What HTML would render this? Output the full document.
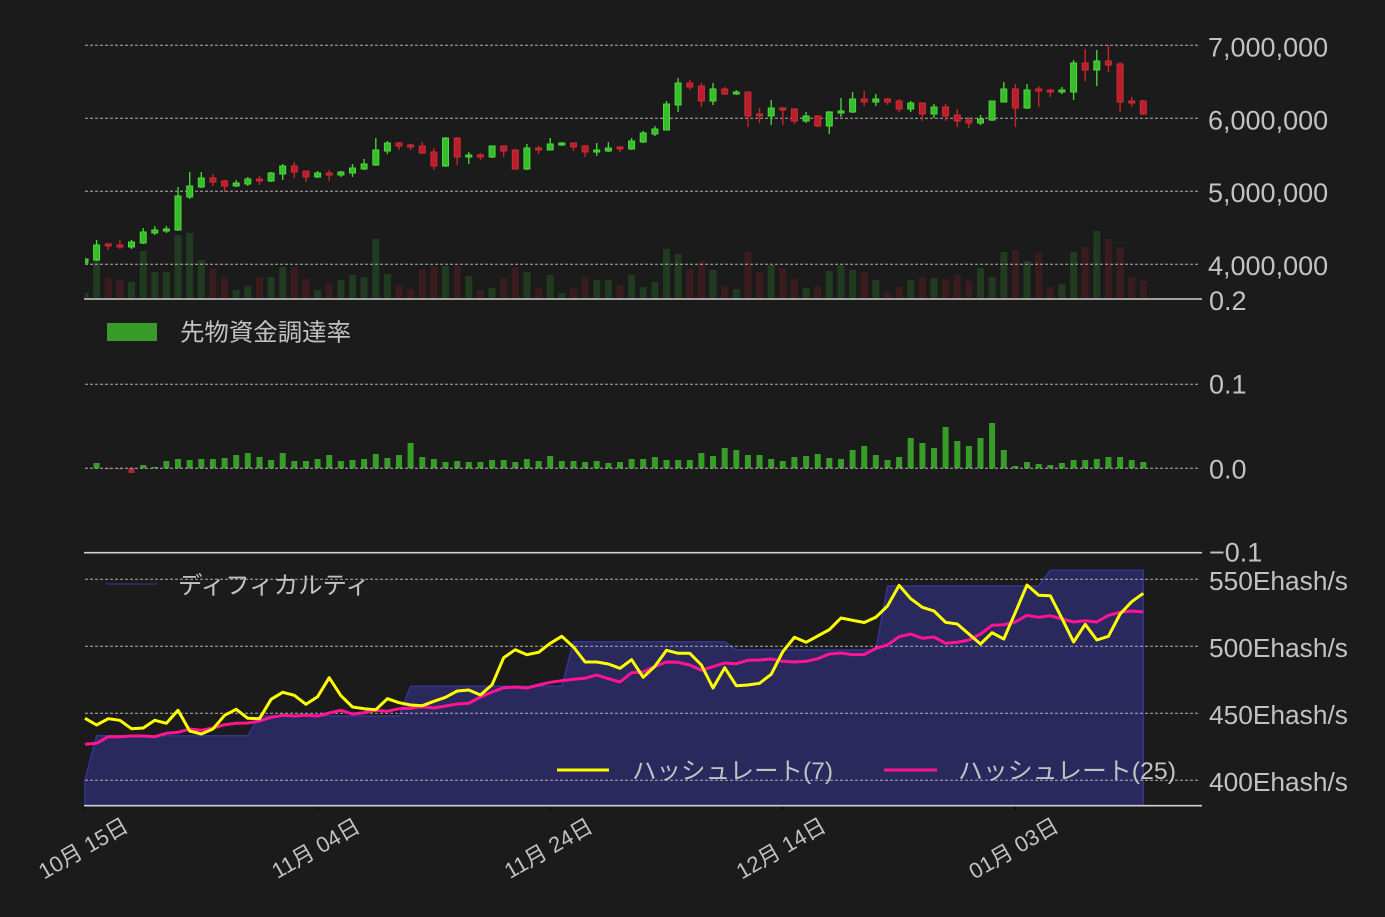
<!DOCTYPE html>
<html><head><meta charset="utf-8"><style>
html,body{margin:0;padding:0;background:#1b1b1b;}
svg{display:block;}
text{font-family:"Liberation Sans","Noto Sans CJK JP",sans-serif;fill:#c2c2c2;}
</style></head><body>
<svg width="1385" height="917" viewBox="0 0 1385 917" xmlns="http://www.w3.org/2000/svg">
<defs><clipPath id="pc"><rect x="85" y="0" width="1117" height="917"/></clipPath></defs>
<rect width="1385" height="917" fill="#1b1b1b"/>
<g clip-path="url(#pc)">
<!-- volume -->
<path fill="#203b1f" d="M81.5 293h7V298h-7zM93.1 260h7V298h-7zM128 282h7V298h-7zM139.7 251h7V298h-7zM151.3 272h7V298h-7zM162.9 272h7V298h-7zM174.5 235h7V298h-7zM186.2 233h7V298h-7zM197.8 260h7V298h-7zM232.7 290h7V298h-7zM244.3 286h7V298h-7zM267.6 277h7V298h-7zM279.2 267h7V298h-7zM314.1 290h7V298h-7zM337.4 280h7V298h-7zM349 275h7V298h-7zM360.6 277h7V298h-7zM372.3 239h7V298h-7zM383.9 274h7V298h-7zM442 266h7V298h-7zM465.3 276h7V298h-7zM488.6 288h7V298h-7zM523.4 272h7V298h-7zM546.7 275h7V298h-7zM558.3 293h7V298h-7zM593.2 280h7V298h-7zM604.9 280h7V298h-7zM628.1 275h7V298h-7zM639.7 287h7V298h-7zM651.4 282h7V298h-7zM663 249h7V298h-7zM674.6 254h7V298h-7zM709.5 270h7V298h-7zM732.8 289h7V298h-7zM767.7 265h7V298h-7zM802.6 288h7V298h-7zM825.8 271h7V298h-7zM837.5 265h7V298h-7zM849.1 270h7V298h-7zM872.3 280h7V298h-7zM907.2 280h7V298h-7zM930.5 278h7V298h-7zM977 268h7V298h-7zM988.6 277h7V298h-7zM1000.3 252h7V298h-7zM1023.5 261h7V298h-7zM1058.4 284h7V298h-7zM1070.1 252h7V298h-7zM1093.3 231h7V298h-7z"/>
<path fill="#3a1c1f" d="M104.8 278h7V298h-7zM116.4 280h7V298h-7zM209.4 269h7V298h-7zM221.1 277h7V298h-7zM256 277h7V298h-7zM290.8 267h7V298h-7zM302.5 279h7V298h-7zM325.7 283h7V298h-7zM395.5 285h7V298h-7zM407.1 289h7V298h-7zM418.8 269h7V298h-7zM430.4 266h7V298h-7zM453.7 266h7V298h-7zM476.9 290h7V298h-7zM500.2 278h7V298h-7zM511.8 267h7V298h-7zM535.1 288h7V298h-7zM570 288h7V298h-7zM581.6 277h7V298h-7zM616.5 285h7V298h-7zM686.3 269h7V298h-7zM697.9 261h7V298h-7zM721.2 286h7V298h-7zM744.4 252h7V298h-7zM756 272h7V298h-7zM779.3 268h7V298h-7zM790.9 279h7V298h-7zM814.2 286h7V298h-7zM860.7 272h7V298h-7zM884 292h7V298h-7zM895.6 287h7V298h-7zM918.9 277h7V298h-7zM942.1 279h7V298h-7zM953.8 275h7V298h-7zM965.4 281h7V298h-7zM1011.9 250h7V298h-7zM1035.2 253h7V298h-7zM1046.8 287h7V298h-7zM1081.7 247h7V298h-7zM1104.9 239h7V298h-7zM1116.6 247h7V298h-7zM1128.2 277h7V298h-7zM1139.8 281h7V298h-7z"/>
</g>
<!-- grids -->
<g stroke="#b0b0b0" stroke-width="1" stroke-dasharray="3 2" fill="none">
<path d="M85 45.3H1200M85 118.3H1200M85 191.3H1200M85 264.3H1200M85 384.3H1200"/>
</g>
<g clip-path="url(#pc)">
<!-- wicks -->
<path fill="none" stroke="#44cf35" stroke-width="1.4" d="M85 258V263M96.6 240V261M131.5 240V249M143.2 228V244M154.8 226V235M166.4 226V233M178 187V231M189.7 172V199M201.3 172V188M236.2 180V187M247.8 177V186M271.1 172V182M282.7 164V180M317.6 171V178M340.9 171V177M352.5 164V177M364.1 159V170M375.8 138V166M387.4 141V154M445.5 137V167M468.8 152V164M492.1 146V158M526.9 144V170M550.2 138V150M561.8 142V146M596.7 143V156M608.4 142V152M631.6 138V150M643.2 131V143M654.9 126V136M666.5 101V130M678.1 78V112M713 83V105M736.3 90V95M771.2 100V125M806.1 112V123M829.3 111V134M841 98V117M852.6 92V113M875.8 94V106M910.7 101V112M934 104V118M980.5 115V125M992.1 101V121M1003.8 82V102M1027 84V109M1061.9 87V94M1073.6 60V100M1096.8 50V86"/>
<path fill="none" stroke="#c8232f" stroke-width="1.4" d="M108.3 243V250M119.9 240V249M212.9 174V186M224.6 180V192M259.5 176V185M294.3 162V178M306 171V182M329.2 170V181M399 142V150M410.6 144V150M422.3 142V154M433.9 148V170M457.2 137V165M480.4 153V160M503.7 146V157M515.3 149V169M538.6 146V154M573.5 143V151M585.1 145V157M620 146V152M689.8 80V90M701.4 83V107M724.7 87V95M747.9 92V127M759.5 108V123M782.8 107V125M794.4 108V124M817.7 115V127M864.2 91V106M887.5 98V105M899.1 99V112M922.4 103V121M945.6 104V121M957.3 109V127M968.9 117V128M1015.4 84V127M1038.7 86V107M1050.3 89V97M1085.2 49V81M1108.4 45V72M1120.1 62V112M1131.7 97V107M1143.3 100V115"/>
<!-- bodies -->
<path fill="#36bd29" stroke="#4cd93b" stroke-width="1" d="M82 259h6V263h-6zM93.6 245h6V260h-6zM128.5 242h6V247h-6zM140.2 232h6V243h-6zM151.8 230h6V233h-6zM163.4 229h6V231h-6zM175 196h6V230h-6zM186.7 186h6V197h-6zM198.3 178h6V187h-6zM233.2 183h6V186h-6zM244.8 179h6V184h-6zM268.1 173h6V181h-6zM279.7 166h6V174h-6zM314.6 173h6V177h-6zM337.9 172h6V175h-6zM349.5 168h6V173h-6zM361.1 164h6V169h-6zM372.8 150h6V165h-6zM384.4 143h6V151h-6zM442.5 138h6V166h-6zM465.8 155h6V157h-6zM489.1 146h6V157h-6zM523.9 148h6V169h-6zM547.2 144h6V150h-6zM558.8 143h6V145h-6zM593.7 150h6V152h-6zM605.4 148h6V151h-6zM628.6 141h6V149h-6zM640.2 133h6V142h-6zM651.9 129h6V134h-6zM663.5 104h6V130h-6zM675.1 83h6V105h-6zM710 89h6V101h-6zM733.3 92h6V94h-6zM768.2 108h6V116h-6zM803.1 116h6V121h-6zM826.3 112h6V126h-6zM838 111h6V113h-6zM849.6 99h6V112h-6zM872.8 99h6V102h-6zM907.7 103h6V109h-6zM931 107h6V114h-6zM977.5 119h6V123h-6zM989.1 101h6V120h-6zM1000.8 89h6V102h-6zM1024 90h6V108h-6zM1058.9 90h6V92h-6zM1070.6 63h6V92h-6zM1093.8 61h6V70h-6z"/>
<path fill="#b81f2b" stroke="#d22a36" stroke-width="1" d="M105.3 244h6V246h-6zM116.9 245h6V247h-6zM209.9 178h6V182h-6zM221.6 181h6V186h-6zM256.5 179h6V181h-6zM291.3 166h6V172h-6zM303 171h6V177h-6zM326.2 173h6V175h-6zM396 143h6V146h-6zM407.6 145h6V147h-6zM419.3 146h6V153h-6zM430.9 152h6V166h-6zM454.2 138h6V157h-6zM477.4 155h6V157h-6zM500.7 146h6V151h-6zM512.3 150h6V169h-6zM535.6 148h6V150h-6zM570.5 143h6V147h-6zM582.1 146h6V152h-6zM617 147h6V149h-6zM686.8 83h6V87h-6zM698.4 86h6V101h-6zM721.7 89h6V94h-6zM744.9 92h6V116h-6zM756.5 114h6V116h-6zM779.8 108h6V110h-6zM791.4 109h6V121h-6zM814.7 116h6V126h-6zM861.2 99h6V102h-6zM884.5 99h6V102h-6zM896.1 101h6V109h-6zM919.4 103h6V114h-6zM942.6 107h6V116h-6zM954.3 115h6V121h-6zM965.9 120h6V123h-6zM1012.4 89h6V108h-6zM1035.7 89h6V91h-6zM1047.3 90h6V92h-6zM1082.2 63h6V70h-6zM1105.4 61h6V65h-6zM1117.1 64h6V102h-6zM1128.7 101h6V103h-6zM1140.3 101h6V114h-6z"/>
</g>
<!-- funding bars -->
<path fill="#389c28" d="M93.6 463h6V468.3h-6zM140.2 465h6V468.3h-6zM151.8 467h6V468.3h-6zM163.4 461h6V468.3h-6zM175 459h6V468.3h-6zM186.7 460h6V468.3h-6zM198.3 459h6V468.3h-6zM209.9 459h6V468.3h-6zM221.6 458h6V468.3h-6zM233.2 455h6V468.3h-6zM244.8 453h6V468.3h-6zM256.5 457h6V468.3h-6zM268.1 460h6V468.3h-6zM279.7 453h6V468.3h-6zM291.3 461h6V468.3h-6zM303 461h6V468.3h-6zM314.6 459h6V468.3h-6zM326.2 455h6V468.3h-6zM337.9 461h6V468.3h-6zM349.5 460h6V468.3h-6zM361.1 459h6V468.3h-6zM372.8 454h6V468.3h-6zM384.4 458h6V468.3h-6zM396 455h6V468.3h-6zM407.6 443h6V468.3h-6zM419.3 457h6V468.3h-6zM430.9 459h6V468.3h-6zM442.5 462h6V468.3h-6zM454.2 461h6V468.3h-6zM465.8 462h6V468.3h-6zM477.4 462h6V468.3h-6zM489.1 460h6V468.3h-6zM500.7 460h6V468.3h-6zM512.3 462h6V468.3h-6zM523.9 459h6V468.3h-6zM535.6 461h6V468.3h-6zM547.2 456h6V468.3h-6zM558.8 461h6V468.3h-6zM570.5 461h6V468.3h-6zM582.1 462h6V468.3h-6zM593.7 461h6V468.3h-6zM605.4 463h6V468.3h-6zM617 462h6V468.3h-6zM628.6 459h6V468.3h-6zM640.2 459h6V468.3h-6zM651.9 457h6V468.3h-6zM663.5 460h6V468.3h-6zM675.1 460h6V468.3h-6zM686.8 460h6V468.3h-6zM698.4 453h6V468.3h-6zM710 456h6V468.3h-6zM721.7 448h6V468.3h-6zM733.3 450h6V468.3h-6zM744.9 455h6V468.3h-6zM756.5 455h6V468.3h-6zM768.2 459h6V468.3h-6zM779.8 461h6V468.3h-6zM791.4 457h6V468.3h-6zM803.1 456h6V468.3h-6zM814.7 454h6V468.3h-6zM826.3 458h6V468.3h-6zM838 459h6V468.3h-6zM849.6 450h6V468.3h-6zM861.2 446h6V468.3h-6zM872.8 455h6V468.3h-6zM884.5 460h6V468.3h-6zM896.1 457h6V468.3h-6zM907.7 438h6V468.3h-6zM919.4 443h6V468.3h-6zM931 448h6V468.3h-6zM942.6 427h6V468.3h-6zM954.3 441h6V468.3h-6zM965.9 446h6V468.3h-6zM977.5 438h6V468.3h-6zM989.1 423h6V468.3h-6zM1000.8 450h6V468.3h-6zM1012.4 466h6V468.3h-6zM1024 462h6V468.3h-6zM1035.7 464h6V468.3h-6zM1047.3 465h6V468.3h-6zM1058.9 463h6V468.3h-6zM1070.6 460h6V468.3h-6zM1082.2 460h6V468.3h-6zM1093.8 459h6V468.3h-6zM1105.4 457h6V468.3h-6zM1117.1 457h6V468.3h-6zM1128.7 460h6V468.3h-6zM1140.3 462h6V468.3h-6z"/>
<path fill="#b52430" d="M105.3 468.3h6V469.3h-6zM116.9 468.3h6V469.3h-6zM128.5 468.3h6V473h-6z"/>
<path stroke="#b0b0b0" stroke-width="1" stroke-dasharray="3 2" d="M85 468.3H1200"/>
<!-- difficulty -->
<path fill="#2a295e" stroke="#34348e" stroke-width="1.5" d="M85 805.5L85 780L96.6 735.7L247.8 735.7L259.5 716L399 716L410.6 686.3L561.8 686.3L573.5 641.7L724.7 641.7L736.3 650L875.8 650L887.5 586L1038.7 586L1050.3 570.3L1143.3 570.3L1143.3 805.5Z"/>
<path stroke="#b0b0b0" stroke-width="1" stroke-dasharray="3 2" d="M85 579.3H1200M85 646.3H1200M85 713.3H1200M85 780.3H1200"/>
<!-- hash lines -->
<polyline fill="none" stroke="#ff1493" stroke-width="3" stroke-linejoin="round" points="85,744.3 96.6,743.3 108.3,736.7 119.9,736.7 131.5,736 143.2,736 154.8,736.7 166.4,733.3 178,732.3 189.7,729 201.3,730.3 212.9,728 224.6,724.7 236.2,723.3 247.8,723 259.5,721 271.1,717.3 282.7,715.3 294.3,716 306,715.3 317.6,716 329.2,713 340.9,710.3 352.5,714 364.1,712.7 375.8,710.3 387.4,711.3 399,708.7 410.6,708.3 422.3,706.7 433.9,708 445.5,706 457.2,704 468.8,703.3 480.4,697 492.1,692 503.7,687.7 515.3,687 526.9,688 538.6,685 550.2,682.3 561.8,680.7 573.5,679.3 585.1,678.3 596.7,675 608.4,678.7 620,682 631.6,672.7 643.2,672 654.9,666.3 666.5,662 678.1,662.3 689.8,665 701.4,670.3 713,666.7 724.7,663 736.3,663.7 747.9,660.3 759.5,660 771.2,659 782.8,661.3 794.4,662 806.1,661.3 817.7,658.7 829.3,654 841,653 852.6,654.7 864.2,654.5 875.8,648.3 887.5,645 899.1,636.7 910.7,634 922.4,638.3 934,637 945.6,643.3 957.3,642.3 968.9,640 980.5,634 992.1,625.3 1003.8,624.7 1015.4,622 1027,615.3 1038.7,617.3 1050.3,615.7 1061.9,619 1073.6,622 1085.2,620.7 1096.8,622 1108.4,615.3 1120.1,612.3 1131.7,611 1143.3,612"/>
<polyline fill="none" stroke="#ffff00" stroke-width="3" stroke-linejoin="round" points="85,718.3 96.6,725 108.3,718.7 119.9,720.3 131.5,728.7 143.2,728 154.8,720.3 166.4,723.3 178,710.3 189.7,731 201.3,734 212.9,729 224.6,715.3 236.2,709.3 247.8,718.3 259.5,718.7 271.1,699.3 282.7,692.3 294.3,695.3 306,704.3 317.6,696.7 329.2,677.7 340.9,695.7 352.5,707 364.1,708.7 375.8,709.7 387.4,698.7 399,702.7 410.6,705 422.3,705.7 433.9,701.3 445.5,697.3 457.2,691 468.8,690 480.4,695 492.1,684.7 503.7,657.7 515.3,649.7 526.9,654.7 538.6,652.3 550.2,643.3 561.8,636.3 573.5,647 585.1,662 596.7,662 608.4,664 620,668.3 631.6,659.7 643.2,677.3 654.9,666.3 666.5,650.3 678.1,653.3 689.8,653.3 701.4,665 713,688 724.7,667.7 736.3,685.7 747.9,685 759.5,683.3 771.2,674.3 782.8,651.7 794.4,637.3 806.1,642.3 817.7,636 829.3,629.7 841,618 852.6,620.3 864.2,622.5 875.8,617.3 887.5,606 899.1,585.3 910.7,598.7 922.4,607.3 934,611 945.6,622.3 957.3,624 968.9,634 980.5,644 992.1,632.7 1003.8,639 1015.4,612.3 1027,585 1038.7,595.3 1050.3,595.7 1061.9,618.3 1073.6,642 1085.2,624.3 1096.8,640 1108.4,636.3 1120.1,614 1131.7,601.7 1143.3,593.3"/>
<!-- axis lines -->
<path stroke="#d0d0d0" stroke-width="1.6" d="M84 299H1202M84 552.7H1202M84 805.7H1202"/>
<path stroke="#000" stroke-width="1" d="M85 806.5V810M317.6 806.5V810M550.2 806.5V810M782.8 806.5V810M1015.4 806.5V810"/>
<!-- legends -->
<rect x="107" y="323" width="50" height="18" fill="#389c28"/>
<text x="180" y="340.5" font-size="24" textLength="171" lengthAdjust="spacingAndGlyphs">先物資金調達率</text>
<path stroke="#2e2e70" stroke-width="1.5" d="M106 584H158"/>
<text x="178" y="593.5" font-size="24" textLength="192" lengthAdjust="spacingAndGlyphs">ディフィカルティ</text>
<path stroke="#ffff00" stroke-width="3" d="M557 770H609"/>
<text x="632" y="779" font-size="24" textLength="201" lengthAdjust="spacingAndGlyphs">ハッシュレート(7)</text>
<path stroke="#ff1493" stroke-width="3" d="M884 770H937"/>
<text x="958" y="779" font-size="24" textLength="218" lengthAdjust="spacingAndGlyphs">ハッシュレート(25)</text>
<!-- y labels -->
<g font-size="27">
<text x="1208" y="56.5">7,000,000</text>
<text x="1208" y="129.5">6,000,000</text>
<text x="1208" y="202">5,000,000</text>
<text x="1208" y="275">4,000,000</text>
<text x="1209" y="310">0.2</text>
<text x="1209" y="393.3">0.1</text>
<text x="1209" y="478.3">0.0</text>
<text x="1209" y="561.7">−0.1</text>
</g>
<g font-size="26.3">
<text x="1209" y="590">550Ehash/s</text>
<text x="1209" y="657">500Ehash/s</text>
<text x="1209" y="724">450Ehash/s</text>
<text x="1209" y="791">400Ehash/s</text>
</g>
<!-- x labels -->
<g font-size="22" text-anchor="middle">
<text x="83" y="856" transform="rotate(-30 83 848)">10月 15日</text>
<text x="315.6" y="856" transform="rotate(-30 315.6 848)">11月 04日</text>
<text x="548.2" y="856" transform="rotate(-30 548.2 848)">11月 24日</text>
<text x="780.8" y="856" transform="rotate(-30 780.8 848)">12月 14日</text>
<text x="1013.4" y="856" transform="rotate(-30 1013.4 848)">01月 03日</text>
</g>
</svg>
</body></html>
